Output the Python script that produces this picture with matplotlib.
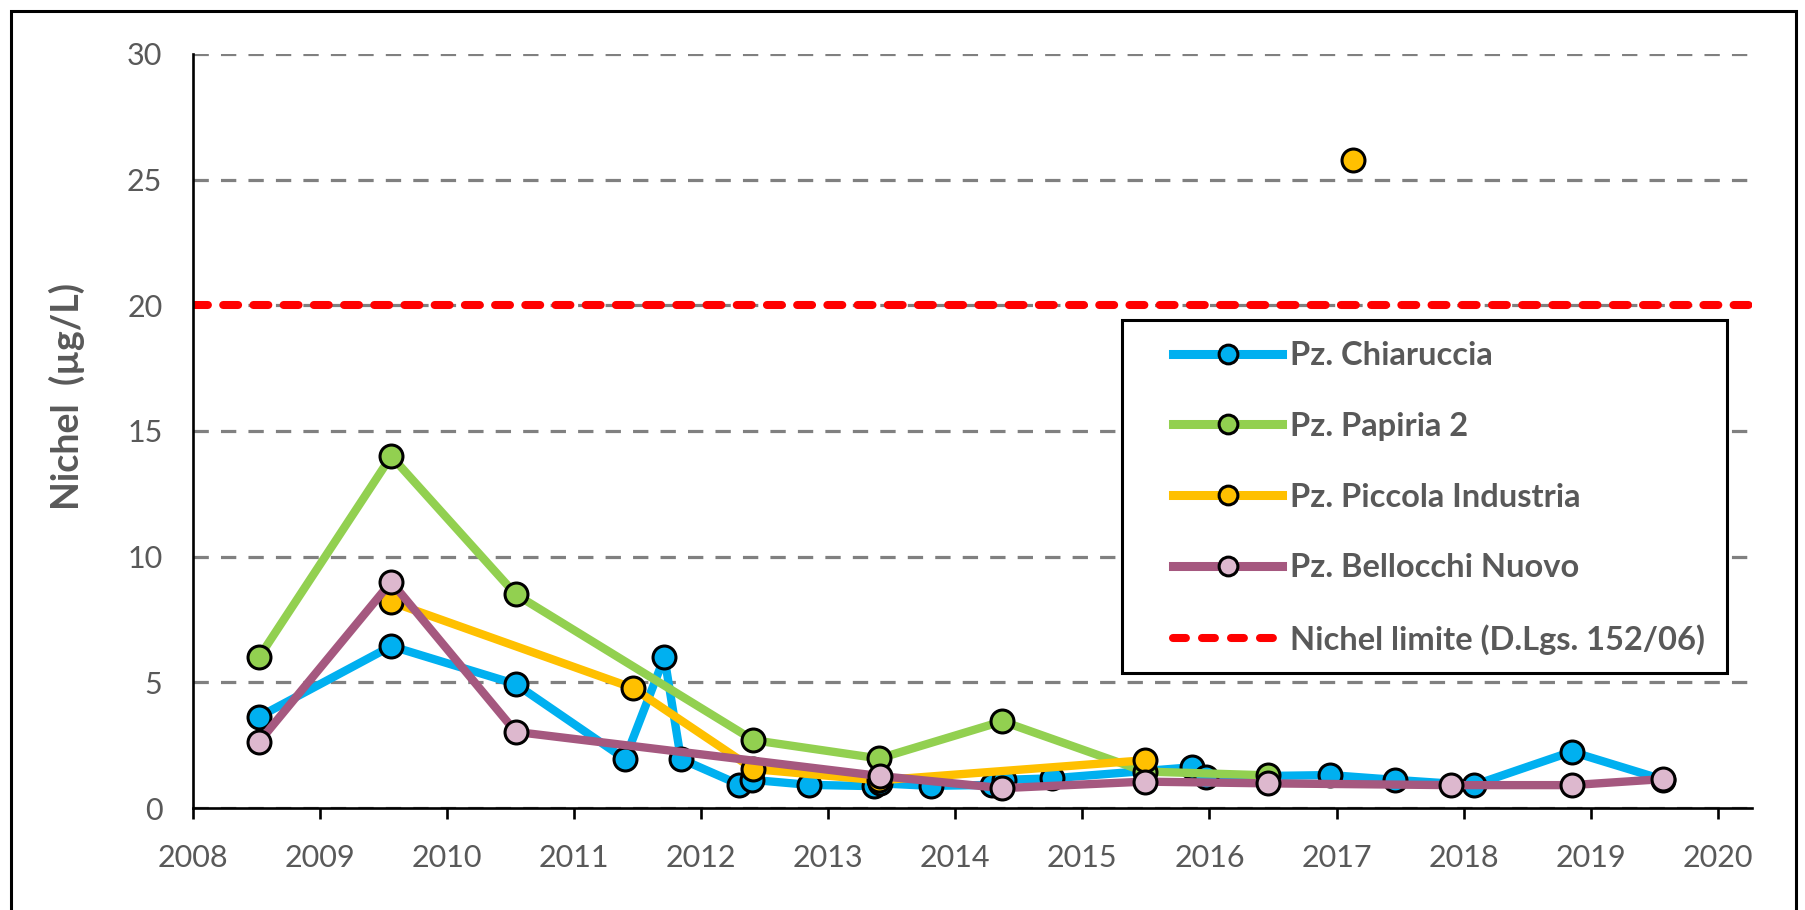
import numpy as np
import matplotlib
matplotlib.use('Agg')
import matplotlib.pyplot as plt
from matplotlib.lines import Line2D
from matplotlib.patches import Rectangle

plt.rcParams['font.family'] = ['Lato', 'DejaVu Sans']

######################################
# data: sampling dates (decimal years) and nickel concentration [ug/L]

years_chiaruccia = [2008.52, 2009.56, 2010.54, 2011.40, 2011.71, 2011.84, 2012.30, 2012.40,
                    2012.85, 2013.36, 2013.41, 2013.81, 2014.29, 2014.38, 2014.76, 2015.86,
                    2015.97, 2016.95, 2017.46, 2018.08, 2018.85, 2019.57]
nichel_chiaruccia = [3.63, 6.44, 4.93, 1.95, 6.0, 1.95, 0.93, 1.12,
                     0.92, 0.87, 0.98, 0.88, 0.92, 1.12, 1.18, 1.62,
                     1.24, 1.31, 1.12, 0.91, 2.24, 1.13]

years_papiria = [2008.52, 2009.56, 2010.54, 2012.41, 2013.40, 2014.37, 2015.49, 2016.46]
nichel_papiria = [6.0, 14.0, 8.5, 2.7, 1.97, 3.45, 1.45, 1.3]

# no line between the 2015 sample and the isolated 2017 value
years_piccola = [2009.56, 2011.46, 2012.41, 2013.40, 2015.49, 2016.30, 2017.13]
nichel_piccola = [8.2, 4.78, 1.55, 1.1, 1.9, np.nan, 25.8]

years_bellocchi = [2008.52, 2009.56, 2010.54, 2013.41, 2014.37, 2015.49, 2016.46, 2017.90,
                   2018.85, 2019.57]
nichel_bellocchi = [2.63, 9.0, 3.03, 1.27, 0.79, 1.05, 0.98, 0.91, 0.91, 1.15]

nichel_limite = 20

labels = ['Pz. Chiaruccia', 'Pz. Papiria 2', 'Pz. Piccola Industria',
          'Pz. Bellocchi Nuovo', 'Nichel limite (D.Lgs. 152/06)']
x_ticks = list(range(2008, 2021))
y_ticks = [0, 5, 10, 15, 20, 25, 30]

######################################
# styles

line_colors = ['#00B0F0', '#92D050', '#FFC000', '#A5587F']
face_colors = ['#00B0F0', '#92D050', '#FFC000', '#DDB8CE']
TEXT_GRAY = '#595959'
W, H = 1805, 910

fig = plt.figure(figsize=(W / 100, H / 100), dpi=100)
ax = fig.add_axes([193 / W, 1 - 808 / H, (1752 - 193) / W, (808 - 54) / H])

series = [(years_chiaruccia, nichel_chiaruccia),
          (years_papiria, nichel_papiria),
          (years_piccola, nichel_piccola),
          (years_bellocchi, nichel_bellocchi)]

for i, (x, y) in enumerate(series):
    ax.plot(x, y, color=line_colors[i], lw=6, marker='o', ms=16.5,
            mfc=face_colors[i], mec='black', mew=2.2, zorder=3 + i,
            solid_joinstyle='round')

ax.axhline(nichel_limite, color='#FF0000', lw=5.8, linestyle=(0, (1.85, 1.9)),
           dash_capstyle='round', zorder=2.5)

ax.set_xlim(2008, 2020.27)
ax.set_ylim(0, 30)
ax.set_xticks(x_ticks)
ax.set_yticks(y_ticks)

ax.set_axisbelow(True)
ax.yaxis.grid(True, color='#808080', lw=2.3, linestyle=(0, (4.8, 3.8)))

for side in ['top', 'right']:
    ax.spines[side].set_visible(False)
for side in ['left', 'bottom']:
    ax.spines[side].set_linewidth(1.9)
    ax.spines[side].set_color('black')
    ax.spines[side].set_zorder(10)

ax.tick_params(axis='x', direction='out', length=8, width=1.9, color='black',
               labelsize=22, labelcolor=TEXT_GRAY, pad=18)
ax.tick_params(axis='y', length=0, labelsize=22, labelcolor=TEXT_GRAY, pad=22)

fig.text(67 / W, 1 - 397 / H, 'Nichel  (µg/L)', rotation=90, ha='center', va='center',
         fontsize=27, fontweight='bold', color=TEXT_GRAY)

# legend box drawn separately so padding can match
fig.patches.append(Rectangle((1122 / W, 1 - 673 / H), (1727 - 1122) / W, (673 - 320) / H,
                             transform=fig.transFigure, facecolor='white',
                             edgecolor='black', lw=2.2, zorder=20))

handles = []
for i in range(4):
    handles.append(Line2D([], [], color=line_colors[i], lw=6.5, marker='o', ms=13.5,
                          mfc=face_colors[i], mec='black', mew=2.2))
handles.append(Line2D([], [], color='#FF0000', lw=5.8, linestyle=(0, (1.6, 2.0)),
                      dash_capstyle='round'))

leg = fig.legend(handles, labels, loc='upper left', bbox_to_anchor=(1173 / W, 1 - 341 / H),
                 frameon=False, borderpad=0, borderaxespad=0, handlelength=3.35,
                 handletextpad=0.25, labelspacing=1.28, numpoints=1,
                 prop={'family': ['Lato', 'DejaVu Sans'], 'weight': 'bold', 'size': 23.5})
leg.set_zorder(21)
for t in leg.get_texts():
    t.set_color(TEXT_GRAY)

# outer frame of the picture
fig.patches.append(Rectangle((11 / W, -0.05), (1796 - 11) / W, 1.05 - 11 / H,
                             transform=fig.transFigure, fill=False,
                             edgecolor='black', lw=2.2, zorder=30))

fig.savefig('out.png', dpi=100)
